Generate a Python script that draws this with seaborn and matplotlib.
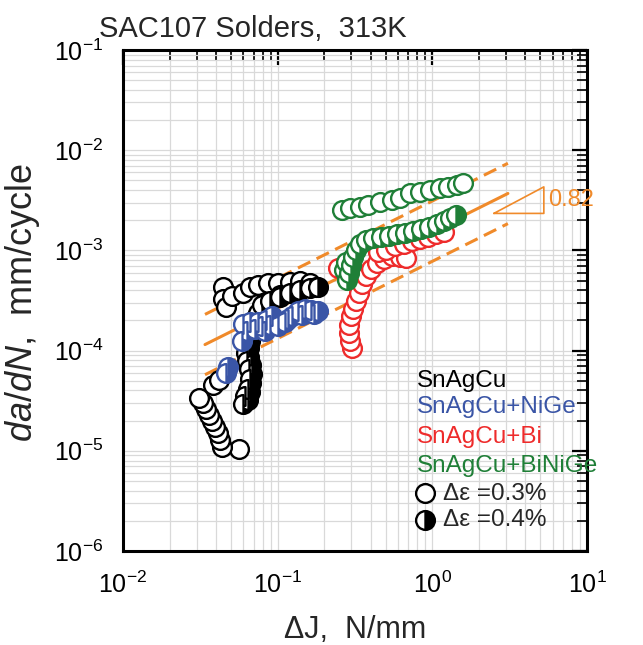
import numpy as np
import pandas as pd
import matplotlib
matplotlib.use('Agg')
import matplotlib.pyplot as plt
import seaborn as sns
from matplotlib.ticker import LogLocator

# --- data (dJ in N/mm, da/dN in mm/cycle) ---
sac_open_x = [0.0562, 0.0437, 0.0424, 0.0411, 0.0393, 0.0376, 0.0360, 0.0344, 0.0329, 0.0310,
              0.0382, 0.0418, 0.0443, 0.0443, 0.0463, 0.0507, 0.0597, 0.0663, 0.0746, 0.0866,
              0.100, 0.120, 0.139, 0.162, 0.177, 0.0815, 0.1035]
sac_open_y = [1.05e-5, 1.10e-5, 1.29e-5, 1.51e-5, 1.74e-5, 2.0e-5, 2.29e-5, 2.63e-5, 3.02e-5, 3.39e-5,
              4.57e-5, 5.13e-5, 4.27e-4, 3.31e-4, 2.75e-4, 3.47e-4, 3.80e-4, 4.27e-4, 4.47e-4, 4.68e-4,
              4.68e-4, 4.79e-4, 4.90e-4, 4.68e-4, 4.27e-4, 3.02e-4, 3.55e-4]

sac_half_x = [0.0700, 0.0680, 0.0660, 0.0650, 0.0655, 0.0670, 0.0680, 0.0675, 0.0660, 0.0640,
              0.0672, 0.0652, 0.0634, 0.0624, 0.0634, 0.0652, 0.0663, 0.0643, 0.0615, 0.0597,
              0.0703, 0.0746, 0.0792, 0.0891, 0.1035, 0.120, 0.139, 0.162, 0.182]
sac_half_y = [1.8e-4, 1.5e-4, 1.26e-4, 1.05e-4, 8.7e-5, 7.2e-5, 5.8e-5, 4.7e-5, 3.9e-5, 3.2e-5,
              1.66e-4, 1.38e-4, 1.15e-4, 9.55e-5, 7.94e-5, 6.61e-5, 5.25e-5, 4.17e-5, 3.55e-5, 2.95e-5,
              2.0e-4, 2.40e-4, 2.82e-4, 3.16e-4, 3.39e-4, 3.72e-4, 3.98e-4, 4.17e-4, 4.27e-4]

nige_half_x = [0.182, 0.172, 0.164, 0.150, 0.144, 0.135, 0.124, 0.117, 0.111, 0.100, 0.0919, 0.0891,
               0.0839, 0.0828, 0.0792, 0.0746, 0.0713, 0.0663, 0.0634, 0.0597, 0.0588, 0.0478, 0.0463]
nige_half_y = [2.51e-4, 2.34e-4, 2.57e-4, 2.63e-4, 2.29e-4, 2.51e-4, 2.19e-4, 2.09e-4, 1.91e-4,
               1.78e-4, 2.19e-4, 1.82e-4, 2.04e-4, 1.58e-4, 1.74e-4, 1.95e-4, 1.66e-4, 1.91e-4,
               1.58e-4, 1.86e-4, 1.26e-4, 6.92e-5, 6.03e-5]

bi_open_x = [0.245, 0.302, 0.293, 0.289, 0.289, 0.298, 0.307, 0.321, 0.336, 0.351, 0.372, 0.401,
             0.439, 0.487, 0.548, 0.618, 0.675, 0.445, 0.501, 0.573, 0.655, 0.738, 0.832, 0.937,
             1.055, 1.19]
bi_open_y = [6.61e-4, 1.07e-4, 1.26e-4, 1.51e-4, 1.82e-4, 2.19e-4, 2.63e-4, 3.16e-4, 3.80e-4, 4.57e-4,
             5.50e-4, 6.46e-4, 7.41e-4, 8.13e-4, 8.71e-4, 8.51e-4, 8.32e-4, 9.55e-4, 1.02e-3, 1.10e-3,
             1.17e-3, 1.23e-3, 1.29e-3, 1.35e-3, 1.45e-3, 1.51e-3]

binige_open_x = [0.261, 0.293, 0.340, 0.384, 0.458, 0.548, 0.618, 0.717, 0.832, 0.964, 1.12, 1.26,
                 1.44, 1.58]
binige_open_y = [2.51e-3, 2.63e-3, 2.69e-3, 2.82e-3, 3.02e-3, 3.16e-3, 3.31e-3, 3.72e-3, 3.80e-3,
                 3.98e-3, 4.17e-3, 4.27e-3, 4.47e-3, 4.68e-3]

binige_half_x = [0.269, 0.277, 0.281, 0.289, 0.298, 0.307, 0.321, 0.340, 0.372, 0.413, 0.466, 0.524,
                 0.590, 0.665, 0.750, 0.844, 0.951, 1.07, 1.19, 1.30, 1.42]
binige_half_y = [6.31e-4, 7.59e-4, 5.01e-4, 5.89e-4, 7.08e-4, 8.51e-4, 1.02e-3, 1.17e-3, 1.26e-3,
                 1.32e-3, 1.35e-3, 1.38e-3, 1.45e-3, 1.48e-3, 1.55e-3, 1.62e-3, 1.70e-3, 1.82e-3,
                 1.95e-3, 2.09e-3, 2.24e-3]

# power-law fit band
fit_slope = 0.77
fit_coef = 1.556e-3
fit_factor = 2.0
fit_range = [0.0339, 3.08]

# slope triangle
tri_x = [2.5, 5.26]
tri_y0 = 2.34e-3
tri_slope = 0.82

colors = {'SnAgCu': 'black', 'SnAgCu+NiGe': '#3a55a6',
          'SnAgCu+Bi': '#ee2b2b', 'SnAgCu+BiNiGe': '#1f7f37'}
orange = '#f08a2a'

sns.set_theme(style='white')
plt.rcParams['font.family'] = ['Liberation Sans', 'DejaVu Sans']
plt.rcParams['mathtext.fontset'] = 'custom'
plt.rcParams['mathtext.rm'] = 'Liberation Sans'
plt.rcParams['mathtext.it'] = 'Liberation Sans:italic'

fig = plt.figure(figsize=(6.43, 6.45), dpi=100)
ax = fig.add_axes([123 / 643, 94 / 645, 464 / 643, 501 / 645])
ax.set_xscale('log')
ax.set_yscale('log')
ax.set_xlim(1e-2, 1e1)
ax.set_ylim(1e-6, 1e-1)

# fit lines
xf = np.array(fit_range)
yf = fit_coef * xf ** fit_slope
ax.plot(xf, yf, color=orange, lw=2.2, zorder=1)
ax.plot(xf, yf * fit_factor, color=orange, lw=2.2, dashes=(4.5, 2.3), zorder=1)
ax.plot(xf, yf / fit_factor, color=orange, lw=2.2, dashes=(4.5, 2.3), zorder=1)

# slope triangle
tri_y1 = tri_y0 * (tri_x[1] / tri_x[0]) ** tri_slope
ax.plot([tri_x[0], tri_x[1], tri_x[1], tri_x[0]], [tri_y0, tri_y0, tri_y1, tri_y0],
        color=orange, lw=1.2, zorder=1)
ax.text(tri_x[1] * 1.07, np.sqrt(tri_y0 * tri_y1), '0.82', color=orange,
        fontsize=17, va='center', ha='left')

ms = 13.5
mew = 1.7


def open_pts(x, y, c):
    df = pd.DataFrame({'x': x, 'y': y})
    sns.scatterplot(data=df, x='x', y='y', ax=ax, s=ms ** 2, marker='o',
                    facecolor='white', edgecolor=c, linewidth=mew, zorder=3, legend=False)


def half_pts(x, y, c):
    ax.plot(x, y, 'o', ls='none', ms=ms, mfc=c, mfcalt='white', mec=c, mew=mew,
            fillstyle='right', zorder=3)


open_pts(sac_open_x, sac_open_y, colors['SnAgCu'])
half_pts(sac_half_x, sac_half_y, colors['SnAgCu'])
half_pts(nige_half_x, nige_half_y, colors['SnAgCu+NiGe'])
open_pts(bi_open_x, bi_open_y, colors['SnAgCu+Bi'])
open_pts(binige_open_x, binige_open_y, colors['SnAgCu+BiNiGe'])
half_pts(binige_half_x, binige_half_y, colors['SnAgCu+BiNiGe'])

# axes styling
ax.xaxis.set_major_locator(LogLocator(base=10, numticks=100))
ax.yaxis.set_major_locator(LogLocator(base=10, numticks=100))
ax.xaxis.set_minor_locator(LogLocator(base=10, subs=np.arange(2, 10), numticks=100))
ax.yaxis.set_minor_locator(LogLocator(base=10, subs=np.arange(2, 10), numticks=100))
ax.grid(which='both', color='#d9d9d9', lw=0.9)
ax.set_axisbelow(True)
for s in ax.spines.values():
    s.set_color('black')
    s.set_linewidth(2.2)
ax.tick_params(which='both', direction='in', top=True, right=True, colors='black')
ax.tick_params(which='major', length=11, width=1.6, labelsize=18)
ax.tick_params(which='minor', length=7, width=1.2)
ax.tick_params(axis='x', which='major', pad=15)
ax.tick_params(axis='y', which='major', pad=14)
ax.set_xlabel('')
ax.set_ylabel('')

fig.text(99 / 643, 1 - 37 / 645, 'SAC107 Solders,  313K', fontsize=21,
         ha='left', va='baseline')
fig.text(355 / 643, 1 - 638 / 645, '\u0394J,  N/mm', fontsize=22, ha='center', va='baseline')
fig.text(23 / 643, 1 - 302 / 645, r'$\it{da/dN}$,  mm/cycle', fontsize=26,
         rotation=90, ha='center', va='center')

# legend as coloured text
leg_x = (417 - 123) / 464
leg_y = [(551 - b) / 501 for b in (387, 413, 443, 472)]
for (name, c), yy in zip(colors.items(), leg_y):
    ax.text(leg_x, yy, name, color=c, fontsize=17.5, transform=ax.transAxes, va='baseline')
mk_x = (425 - 123) / 464
ax.plot([mk_x], [(551 - 493) / 501], 'o', ms=ms, mfc='white', mec='black', mew=mew,
        transform=ax.transAxes, clip_on=False)
ax.plot([mk_x], [(551 - 520) / 501], 'o', ms=ms, mfc='black', mfcalt='white', mec='black',
        mew=mew, fillstyle='right', transform=ax.transAxes, clip_on=False)
tx = (443 - 123) / 464
ax.text(tx, (551 - 500) / 501, '\u0394\u03b5 =0.3%', fontsize=17.5, transform=ax.transAxes, va='baseline')
ax.text(tx, (551 - 526) / 501, '\u0394\u03b5 =0.4%', fontsize=17.5, transform=ax.transAxes, va='baseline')

fig.savefig('out.png', dpi=100)
